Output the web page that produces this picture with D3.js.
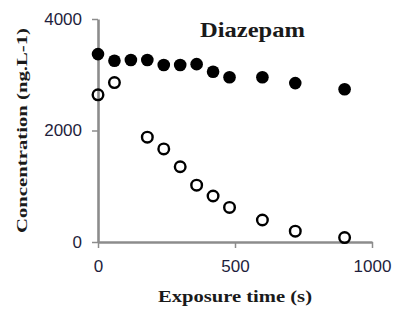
<!DOCTYPE html>
<html><head><meta charset="utf-8">
<script src="https://cdn.jsdelivr.net/npm/d3@7"></script>
<style>html,body{margin:0;padding:0;background:#fff;}</style>
</head><body>
<svg id="c" width="393" height="320"></svg>
<script>
const filledTime = [0, 60, 120, 180, 240, 300, 360, 420, 480, 600, 720, 900];
const filledConc = [3370, 3250, 3265, 3265, 3175, 3175, 3190, 3055, 2955, 2955, 2850, 2740];
const openTime = [0, 60, 180, 240, 300, 360, 420, 480, 600, 720, 900];
const openConc = [2640, 2860, 1880, 1670, 1350, 1020, 825, 620, 395, 195, 80];
const xTicks = [0, 500, 1000];
const yTicks = [0, 2000, 4000];
const title = "Diazepam";
const xLabel = "Exposure time (s)";
const yLabel = "Concentration (ng.L-1)";

const svg = d3.select("#c");
const x = d3.scaleLinear().domain([0, 1000]).range([98, 372]);
const y = d3.scaleLinear().domain([0, 4000]).range([242, 19]);
const axisColor = "#8c8c8c";

const gx = svg.append("g").attr("transform", `translate(0,${y(0)})`)
  .call(d3.axisBottom(x).tickValues(xTicks).tickSize(6).tickPadding(12).tickSizeOuter(0).tickFormat(d3.format("d")));
const gy = svg.append("g").attr("transform", `translate(${x(0)},0)`)
  .call(d3.axisLeft(y).tickValues(yTicks).tickSize(6).tickPadding(10).tickSizeOuter(0).tickFormat(d3.format("d")));
[gx, gy].forEach(g => {
  g.select(".domain").attr("stroke", axisColor).attr("stroke-width", 2.6);
  g.selectAll(".tick line").attr("stroke", axisColor).attr("stroke-width", 1.5);
  g.selectAll(".tick text").attr("fill", "#1e1e3c")
    .style("font-family", "'Liberation Sans', Arial, sans-serif").style("font-size", "17px");
});

svg.append("g").selectAll("circle").data(filledTime.map((t, i) => [t, filledConc[i]]))
  .join("circle").attr("cx", d => x(d[0])).attr("cy", d => y(d[1])).attr("r", 6.3).attr("fill", "#000");
svg.append("g").selectAll("circle").data(openTime.map((t, i) => [t, openConc[i]]))
  .join("circle").attr("cx", d => x(d[0])).attr("cy", d => y(d[1])).attr("r", 5.3)
  .attr("fill", "none").attr("stroke", "#000").attr("stroke-width", 2.4);

const serif = "'Liberation Serif', 'Times New Roman', serif";
svg.append("text").attr("x", 200).attr("y", 37).text(title)
  .attr("textLength", 105).attr("lengthAdjust", "spacingAndGlyphs")
  .style("font-family", serif).style("font-weight", "bold").style("font-size", "21px").attr("fill", "#1a1a1a");
svg.append("text").attr("x", 158).attr("y", 302).text(xLabel)
  .attr("textLength", 154).attr("lengthAdjust", "spacingAndGlyphs")
  .style("font-family", serif).style("font-weight", "bold").style("font-size", "16px").attr("fill", "#1a1a1a");
svg.append("text").attr("transform", "translate(27,233) rotate(-90)").text(yLabel)
  .attr("textLength", 205).attr("lengthAdjust", "spacingAndGlyphs")
  .style("font-family", serif).style("font-weight", "bold").style("font-size", "14px").attr("fill", "#1a1a1a");
</script>
</body></html>
